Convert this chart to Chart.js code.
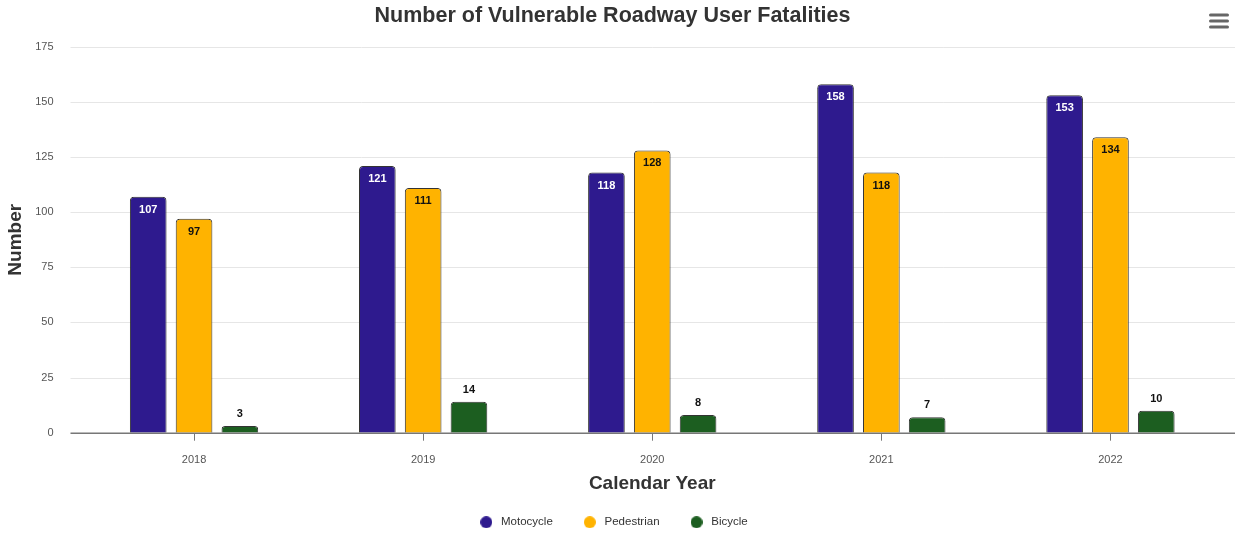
<!DOCTYPE html>
<html>
<head>
<meta charset="utf-8">
<script src="https://cdn.jsdelivr.net/npm/chart.js@4/dist/chart.umd.min.js"></script>
<style>
html,body{margin:0;padding:0;background:#fff;}
#wrap{position:relative;width:1235px;height:533px;}
</style>
</head>
<body>
<div id="wrap"><canvas id="c" width="1235" height="533"></canvas></div>
<script>
const categories = ['2018', '2019', '2020', '2021', '2022'];
const motocycle = [107, 121, 118, 158, 153];
const pedestrian = [97, 111, 128, 118, 134];
const bicycle = [3, 14, 8, 7, 10];
const yTicks = [0, 25, 50, 75, 100, 125, 150, 175];
const seriesNames = ['Motocycle', 'Pedestrian', 'Bicycle'];

const FONT = "'Liberation Sans', Arial, sans-serif";

function dot(color) {
  const c = document.createElement('canvas');
  c.width = 12; c.height = 12;
  const g = c.getContext('2d');
  g.fillStyle = color;
  g.beginPath(); g.arc(6, 6, 6, 0, Math.PI * 2); g.fill();
  return c;
}

const extGrid = {
  id: 'extGrid',
  beforeDatasetsDraw(chart) {
    const ctx = chart.ctx, y = chart.scales.y, a = chart.chartArea;
    const x0 = a.left - 9, x1 = a.right + 10;
    ctx.save();
    ctx.lineWidth = 1;
    ctx.strokeStyle = '#e6e6e6';
    yTicks.forEach(v => {
      if (v === 0) return;
      const py = Math.round(y.getPixelForValue(v)) + 0.5;
      ctx.beginPath(); ctx.moveTo(x0, py); ctx.lineTo(x1, py); ctx.stroke();
    });
    ctx.restore();
  },
  afterDatasetsDraw(chart) {
    const ctx = chart.ctx, y = chart.scales.y, a = chart.chartArea;
    const x0 = a.left - 9, x1 = a.right + 10;
    ctx.save();
    ctx.strokeStyle = '#777';
    ctx.lineWidth = 1.5;
    const py = y.getPixelForValue(0) + 0.5;
    ctx.beginPath(); ctx.moveTo(x0, py); ctx.lineTo(x1, py); ctx.stroke();
    ctx.font = 'bold 11px ' + FONT;
    ctx.textAlign = 'center';
    ctx.textBaseline = 'middle';
    chart.data.datasets.forEach((ds, i) => {
      const meta = chart.getDatasetMeta(i);
      meta.data.forEach((bar, j) => {
        const v = ds.data[j];
        let ty, col;
        if (i === 0) { ty = bar.y + 13; col = '#ffffff'; }
        else if (i === 1) { ty = bar.y + 13; col = '#111111'; }
        else { ty = bar.y - 12; col = '#111111'; }
        ctx.fillStyle = col;
        ctx.fillText(String(v), bar.x, ty);
      });
    });
    ctx.fillStyle = '#666';
    [15, 21, 27].forEach(yy => {
      ctx.beginPath();
      ctx.roundRect(1209, yy - 1.5, 20, 3, 1.5);
      ctx.fill();
    });
    ctx.restore();
  }
};

const colors = ['#2e1a8e', '#ffb300', '#1c5e20'];
const seriesData = [motocycle, pedestrian, bicycle];

new Chart(document.getElementById('c'), {
  type: 'bar',
  data: {
    labels: categories,
    datasets: seriesNames.map((n, i) => ({
      label: n,
      data: seriesData[i],
      backgroundColor: colors[i],
      borderColor: '#333333',
      borderWidth: 1,
      borderRadius: {topLeft: 4, topRight: 4, bottomLeft: 0, bottomRight: 0},
      borderSkipped: 'bottom',
      categoryPercentage: 0.6,
      barPercentage: 0.8
    }))
  },
  options: {
    responsive: false,
    animation: false,
    devicePixelRatio: 1,
    layout: {padding: {left: 0, right: 10, top: 0, bottom: -5}},
    plugins: {
      title: {
        display: true,
        text: 'Number of Vulnerable Roadway User Fatalities',
        color: '#333333',
        font: {family: FONT, size: 21.5, weight: 'bold'},
        padding: {top: 3, bottom: 18}
      },
      legend: {
        position: 'bottom',
        labels: {
          usePointStyle: true,
          pointStyle: 'circle',
          pointStyleWidth: 18,
          boxHeight: 8.5,
          padding: 28,
          color: '#333333',
          font: {family: FONT, size: 11.5},
          generateLabels: (chart) => {
            const items = Chart.defaults.plugins.legend.labels.generateLabels(chart);
            items.forEach((it, i) => {
              it.lineWidth = 0;
              it.strokeStyle = it.fillStyle;
              it.pointStyle = dot(colors[i]);
            });
            return items;
          }
        }
      },
      tooltip: {enabled: false}
    },
    scales: {
      x: {
        offset: true,
        grid: {display: true, drawOnChartArea: false, offset: false, color: '#777', tickLength: 8, tickWidth: 1},
        border: {display: false},
        ticks: {color: '#555555', font: {family: FONT, size: 11}, padding: 13},
        title: {display: true, text: 'Calendar Year', color: '#333333', font: {family: FONT, size: 19, weight: 'bold'}, padding: {top: -7.5, bottom: -6.7}}
      },
      y: {
        min: 0, max: 175,
        afterBuildTicks: s => { s.ticks = yTicks.map(v => ({value: v})); },
        afterFit: s => { s.width = 79.5; },
        grid: {display: false},
        border: {display: false},
        ticks: {color: '#555555', font: {family: FONT, size: 11}, padding: 18},
        title: {display: true, text: 'Number', color: '#333333', font: {family: FONT, size: 19, weight: 'bold'}, padding: {top: 4, bottom: 0}}
      }
    }
  },
  plugins: [extGrid]
});
</script>
</body>
</html>
